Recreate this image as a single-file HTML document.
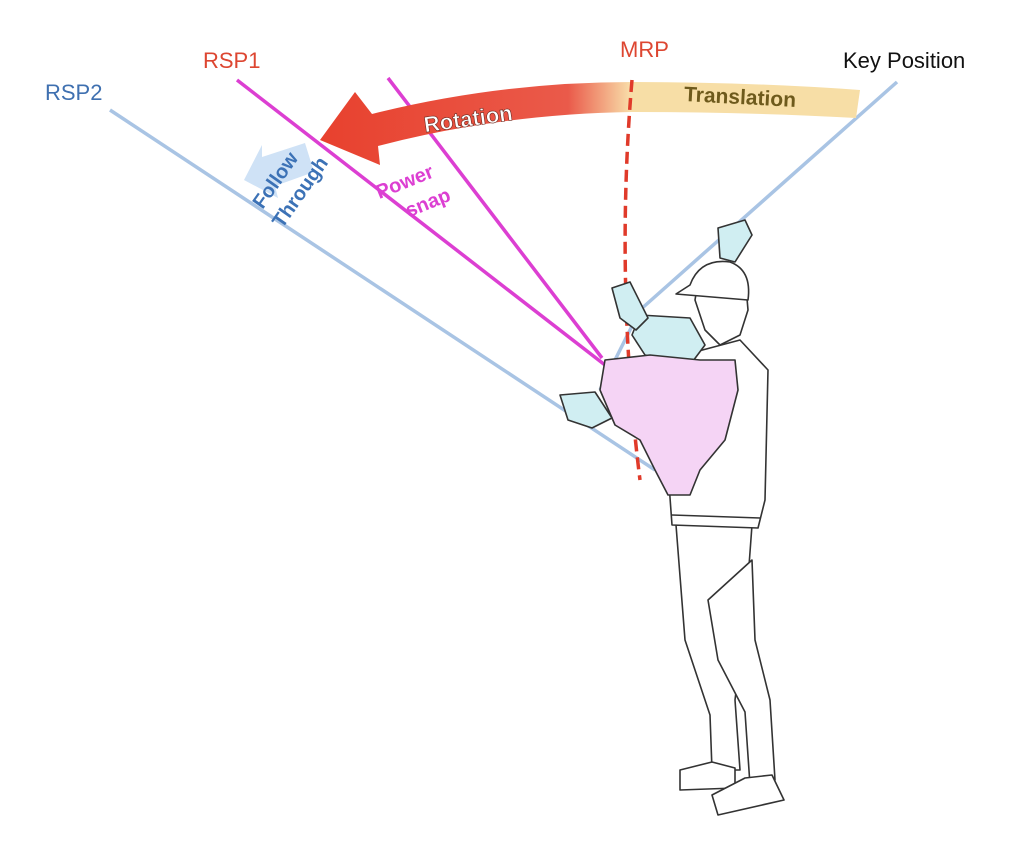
<!DOCTYPE html>
<html><head><style>
html,body{margin:0;padding:0;background:#fff;}
svg{display:block;}
text{font-family:"Liberation Sans","DejaVu Sans",sans-serif;}
</style></head><body>
<svg width="1024" height="856" viewBox="0 0 1024 856" xmlns="http://www.w3.org/2000/svg">
<defs>
<linearGradient id="rg" x1="320" y1="0" x2="630" y2="0" gradientUnits="userSpaceOnUse">
<stop offset="0" stop-color="#e8412e"/><stop offset="0.8" stop-color="#ea5a4a"/><stop offset="1" stop-color="#f8dca8"/>
</linearGradient>
</defs>
<line x1="110" y1="110" x2="655" y2="470" stroke="#a9c4e4" stroke-width="3.5"/>
<line x1="237" y1="80" x2="605" y2="365" stroke="#dc3fd2" stroke-width="3.5"/>
<line x1="388" y1="78" x2="602" y2="358" stroke="#dc3fd2" stroke-width="3.5"/>
<line x1="897" y1="82" x2="640" y2="310" stroke="#a9c4e4" stroke-width="3.5"/>
<line x1="640" y1="310" x2="600" y2="390" stroke="#a9c4e4" stroke-width="3.5"/>
<path d="M630,82 Q750,82 860,90 L856,118 Q750,112 630,112 Z" fill="#f7dea6"/>
<text x="684" y="104" font-size="21" font-weight="bold" fill="#6e5a1c" transform="rotate(3 740 98)">Translation</text>
<path d="M632,82 Q500,82 372,114 L355,92 L320,140 L380,165 L378,146 Q500,114 632,112 Z" fill="url(#rg)"/>
<text x="423" y="126" font-size="22" font-weight="bold" fill="#fff" stroke="#6a2a20" stroke-width="0.6" transform="rotate(-8 470 115)">Rotation</text>
<path d="M262,145 L262,157 L305,143 L314,172 L275,186 L278,198 L244,180 Z" fill="#cfe2f6"/>
<text x="246" y="202" font-size="20" font-weight="bold" fill="#3c72b6" transform="rotate(-55 262 190)">Follow</text>
<text x="264" y="222" font-size="20" font-weight="bold" fill="#3c72b6" transform="rotate(-55 280 208)">Through</text>
<text x="374" y="192" font-size="20" font-weight="bold" fill="#dc3fd2" transform="rotate(-22 395 182)">Power</text>
<text x="403" y="212" font-size="20" font-weight="bold" fill="#dc3fd2" transform="rotate(-22 420 200)">snap</text>
<path d="M632,80 Q615,280 640,480" fill="none" stroke="#e03a2a" stroke-width="3.5" stroke-dasharray="12,6"/>
<text x="45" y="100" font-size="22" fill="#3f70b0">RSP2</text>
<text x="203" y="68" font-size="22" fill="#dd4631">RSP1</text>
<text x="620" y="57" font-size="22" fill="#dd4631">MRP</text>
<text x="843" y="68" font-size="22" fill="#111">Key Position</text>
<g stroke="#333" stroke-width="1.6" fill="#fff" stroke-linejoin="round">
<path d="M676,525 L685,640 L710,715 L712,770 L740,770 L735,700 L745,620 L752,525 Z"/>
<path d="M708,600 L718,660 L745,712 L750,785 L775,780 L770,700 L755,640 L752,560 Z"/>
<path d="M680,770 L712,762 L735,768 L735,788 L680,790 Z"/>
<path d="M712,795 L745,778 L772,775 L784,800 L718,815 Z"/>
<path d="M665,360 L740,340 L768,370 L765,500 L758,528 L672,525 L668,470 Z"/>
<line x1="672" y1="515" x2="760" y2="518"/>
<path d="M700,270 Q725,255 745,275 L748,310 L740,335 L720,345 L705,330 L695,300 Z"/>
<path d="M690,285 Q700,258 730,262 Q752,270 748,300 L700,296 L676,294 Z"/>
<path d="M640,315 L690,318 L705,345 L690,365 L645,355 L632,335 Z" fill="#d0eef2"/>
<path d="M612,288 L630,282 L648,318 L636,330 L620,318 Z" fill="#d0eef2"/>
<path d="M718,228 L745,220 L752,235 L735,262 L720,258 Z" fill="#d0eef2"/>
<path d="M605,360 L650,355 L700,360 L735,360 L738,390 L725,440 L700,470 L690,495 L668,495 L655,470 L640,440 L615,425 L600,390 Z" fill="#f5d4f5"/>
<path d="M560,395 L595,392 L612,418 L592,428 L568,420 Z" fill="#d0eef2"/>
</g>
</svg>
</body></html>
